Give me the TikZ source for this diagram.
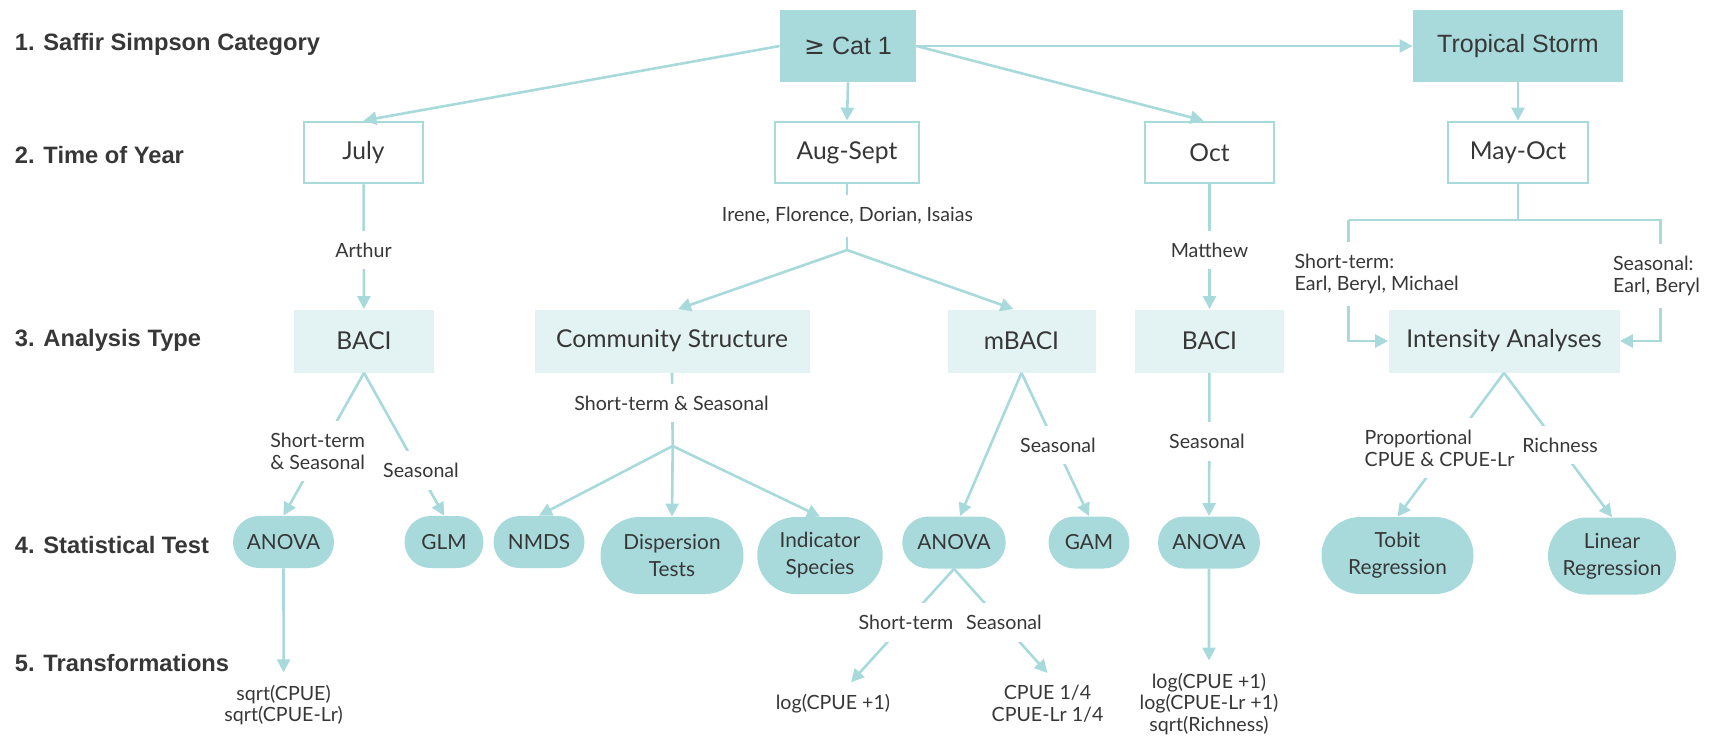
\documentclass[tikz,border=0pt]{standalone}
\usepackage{fontspec}
\setmainfont{Lato}
\newfontfamily\hdrfamily{Liberation Sans}
\newfontfamily\geqfamily{DejaVu Sans}
\usepackage{tikz}
\usetikzlibrary{arrows.meta,shapes.misc}

\begin{document}
\begin{tikzpicture}[x=0.5pt, y=-0.5pt,
    line/.style = {draw=A8DADC, line width=1.3pt},
    arr/.style = {line, -{Triangle[length=6.5pt,width=6.5pt]}},
    hdr/.style = {anchor=west, inner sep=0, text=TXT, font=\hdrfamily\bfseries\fontsize{11.85}{14}\selectfont},
    topbox/.style = {fill=A8DADC, text=TXT, inner sep=0, minimum height=36pt, font=\hdrfamily\fontsize{12.5}{15}\selectfont},
    month/.style = {draw=A8DADC, line width=1.4pt, fill=white, text=TXT, inner sep=0, minimum height=30.5pt, font=\fontsize{12.3}{14}\selectfont},
    analysis/.style = {fill=E3F3F3, text=TXT, inner sep=0, minimum height=31.5pt, font=\fontsize{12.3}{14}\selectfont},
    test/.style = {rounded rectangle, fill=A8DADC, text=TXT, inner sep=0, minimum height=26pt, align=center, font=\fontsize{10.4}{13.5}\selectfont},
    testtwo/.style = {test, minimum height=38.5pt},
    gaplbl/.style = {fill=white, text=TXT, inner xsep=2pt, inner ysep=6pt, align=center, font=\fontsize{9.8}{10.9}\selectfont},
    trlbl/.style = {gaplbl, fill=none}]
    \definecolor{A8DADC}{RGB}{168,218,220}
    \definecolor{E3F3F3}{RGB}{227,243,243}
    \definecolor{TXT}{RGB}{55,55,55}
    \useasboundingbox (0,0) rectangle (1713,736);

    % row titles
    \node[hdr] (HDR_1) at (14.5,44) {1. Saffir Simpson Category};
    \node[hdr] (HDR_2) at (14.5,155) {2. Time of Year};
    \node[hdr] (HDR_3) at (14.5,340) {3. Analysis Type};
    \node[hdr] (HDR_4) at (14.5,545) {4. Statistical Test};
    \node[hdr] (HDR_5) at (14.5,663) {5. Transformations};

    % boxes
    \node[topbox, minimum width=68pt] (ID_cat) at (848,46) {{\geqfamily ≥} Cat 1};
    \node[topbox, minimum width=105pt] (ID_storm) at (1518,46) {Tropical Storm};
    \node[month, minimum width=59.5pt] (ID_july) at (363.5,152.5) {July};
    \node[month, minimum width=72pt] (ID_augsep) at (847,152.5) {Aug-Sept};
    \node[month, minimum width=64.5pt] (ID_oct) at (1209.5,152.5) {Oct};
    \node[month, minimum width=70pt] (ID_mayoct) at (1518,152.5) {May-Oct};
    \node[analysis, minimum width=70pt] (ID_baciA) at (364,341) {BACI};
    \node[analysis, minimum width=137.5pt] (ID_comm) at (672,341) {Community Structure};
    \node[analysis, minimum width=74pt] (ID_mbaci) at (1021.5,341) {mBACI};
    \node[analysis, minimum width=74.5pt] (ID_baciB) at (1209.5,341) {BACI};
    \node[analysis, minimum width=115.5pt] (ID_int) at (1504,341) {Intensity Analyses};

    % tests
    \node[test, minimum width=50.5pt] (ID_anovaA) at (283.5,542) {ANOVA};
    \node[test, minimum width=39.5pt] (ID_glm) at (444,542) {GLM};
    \node[test, minimum width=45.5pt] (ID_nmds) at (539,542) {NMDS};
    \node[testtwo, minimum width=71.5pt] (ID_disp) at (672,555.5) {Dispersion\\Tests};
    \node[testtwo, minimum width=62.75pt] (ID_indic) at (820,555.5) {Indicator\\Species};
    \node[test, minimum width=51.75pt] (ID_anovaB) at (954,542.5) {ANOVA};
    \node[test, minimum width=40.5pt] (ID_gam) at (1089,542.5) {GAM};
    \node[test, minimum width=51pt] (ID_anovaC) at (1209,542.5) {ANOVA};
    \node[testtwo, minimum width=76pt] (ID_tobit) at (1397.5,555.5) {Tobit\\Regression};
    \node[testtwo, minimum width=64pt] (ID_linreg) at (1612,556) {Linear\\Regression};

    % transformations
    \node[trlbl] (ID_trA) at (283.6,705) {sqrt(CPUE)\\sqrt(CPUE-Lr)};
    \node[trlbl] (ID_trM1) at (833,704) {log(CPUE +1)};
    \node[trlbl] (ID_trM2) at (1047.5,704) {CPUE 1/4\\CPUE-Lr 1/4};
    \node[trlbl] (ID_trC) at (1209,704) {log(CPUE +1)\\log(CPUE-Lr +1)\\sqrt(Richness)};

    \coordinate (ID_splitI) at (847,250);
    \coordinate (ID_splitC) at (672.7,446);
    \coordinate (ID_junc) at (1518,220);
    \coordinate (ID_tsL) at (1348.5,220);
    \coordinate (ID_tsR) at (1660.5,220);

    % connectors
    \draw[arr] (ID_cat.west) -- (ID_july.north);
    \draw[arr] (ID_cat.south) -- (ID_augsep.north);
    \draw[arr] (ID_cat.east) -- ([xshift=-3pt]ID_oct.north);
    \draw[arr] (ID_cat.east) -- (ID_storm.west);
    \draw[arr] (ID_storm) -- (ID_mayoct);
    \draw[arr] (ID_july) -- (ID_baciA);
    \draw[line] (ID_augsep.south) -- (ID_splitI);
    \draw[arr] (ID_splitI) -- ([xshift=3pt]ID_comm.north);
    \draw[arr] (ID_splitI) -- ([xshift=-4pt]ID_mbaci.north);
    \draw[arr] (ID_oct) -- (ID_baciB);
    \draw[line] (ID_mayoct) -- (ID_junc);
    \draw[arr] (ID_tsL) -- (ID_tsR) |- (ID_int.east);
    \draw[arr] (ID_tsL) |- (ID_int.west);
    \draw[arr] (ID_baciA.south) -- (ID_anovaA.north);
    \draw[arr] (ID_baciA.south) -- (ID_glm.north);
    \draw[line] (ID_comm.south) -- (ID_splitC);
    \draw[arr] (ID_splitC) -- (ID_nmds.north);
    \draw[arr] (ID_splitC) -- (ID_disp.north);
    \draw[arr] (ID_splitC) -- (ID_indic.north);
    \draw[arr] (ID_mbaci.south) -- ([xshift=3pt]ID_anovaB.north);
    \draw[arr] (ID_mbaci.south) -- (ID_gam.north);
    \draw[arr] (ID_baciB) -- (ID_anovaC);
    \draw[arr] (ID_int.south) -- (ID_tobit.north);
    \draw[arr] (ID_int.south) -- (ID_linreg.north);
    \draw[arr] (ID_anovaA) -- (ID_trA);
    \draw[arr] (ID_anovaB.south) -- ([xshift=9pt]ID_trM1.north);
    \draw[arr] (ID_anovaB.south) -- (ID_trM2.north);
    \draw[arr] (ID_anovaC) -- (ID_trC);

    % labels on the connectors
    \node[gaplbl] (ID_arthur) at (363.5,250) {Arthur};
    \node[gaplbl] (ID_irene) at (847.5,216) {Irene, Florence, Dorian, Isaias};
    \node[gaplbl] (ID_matthew) at (1209.5,250) {Matthew};
    \node[gaplbl, align=left] (ID_stTS) at (1376.7,274) {Short-term:\\Earl, Beryl, Michael};
    \node[gaplbl, align=left] (ID_seasTS) at (1656.5,276) {Seasonal:\\Earl, Beryl};
    \node[gaplbl, align=left] (ID_stA) at (317.6,451) {Short-term\\\& Seasonal};
    \node[gaplbl] (ID_seasA) at (421,470.7) {Seasonal};
    \node[gaplbl] (ID_stCS) at (671.5,403) {Short-term \& Seasonal};
    \node[gaplbl] (ID_seasM) at (1058,445) {Seasonal};
    \node[gaplbl] (ID_seasB) at (1207,441.7) {Seasonal};
    \node[gaplbl, align=left] (ID_prop) at (1439.5,448) {Proportional\\CPUE \& CPUE-Lr};
    \node[gaplbl] (ID_rich) at (1560,445) {Richness};
    \node[gaplbl] (ID_stM) at (906,622.7) {Short-term};
    \node[gaplbl] (ID_seasM2) at (1004,622.7) {Seasonal};
\end{tikzpicture}
\end{document}
